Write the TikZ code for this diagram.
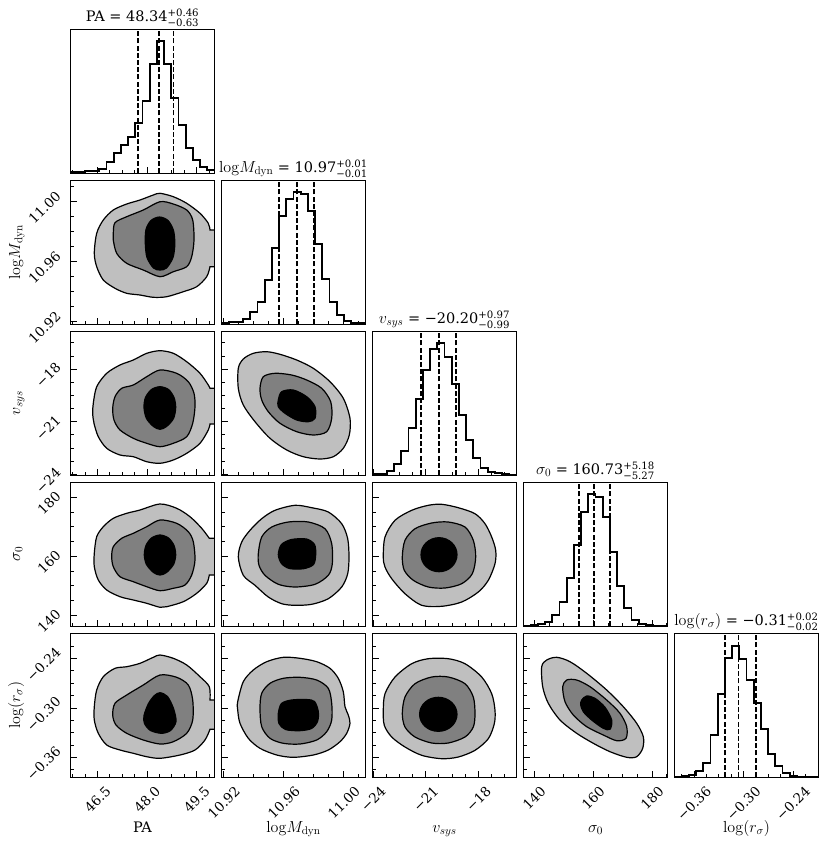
\documentclass[tikz,border=0pt]{standalone}
\usepackage{fix-cm}
\usepackage{amsmath}
\usepackage[no-math]{fontspec}
\setmainfont{DejaVu Serif}
\definecolor{cLight}{gray}{0.75}
\definecolor{cMid}{gray}{0.5}
\newcommand\mfont{\fontsize{16}{19}\selectfont}
\tikzset{
  framel/.style={draw=black, line width=1pt},
  tickl/.style={draw=black, line width=0.9pt},
  histl/.style={draw=black, line width=1.8pt, line join=miter},
  dashl/.style={draw=black, line width=1.6pt, dash pattern=on 5pt off 2.2pt},
  c1/.style={fill=cLight, draw=black, line width=1.2pt},
  c2/.style={fill=cMid, draw=black, line width=1.2pt},
  c3/.style={fill=black, draw=black, line width=1.2pt},
  ticklab/.style={inner sep=0pt, font=\fontsize{13.5}{15}\selectfont},
  axlab/.style={inner sep=0pt, font=\fontsize{14.5}{17}\selectfont},
  titl/.style={inner sep=0pt, font=\fontsize{14.5}{17}\selectfont},
}
\def\minA{2.2,14.6,39.4,51.8,64.2,89,101.4,113.8,138.6}
\def\majA{27,76.6,126.2}
\def\labA{27/46.5,76.6/48.0,126.2/49.5}
\def\minB{17.4,32.4,47.4,77.4,92.4,107.4,137.4}
\def\majB{2.4,62.4,122.4}
\def\labB{2.4/10.92,62.4/10.96,122.4/11.00}
\def\minC{13.76,26.92,40.08,66.4,79.56,92.72,119.04,132.2}
\def\majC{0.6,53.24,105.88}
\def\labC{0.6/−24,53.24/−21,105.88/−18}
\def\minD{25.45,40.2,54.95,84.45,99.2,113.95,143.2}
\def\majD{10.7,69.7,128.7}
\def\labD{10.7/140,69.7/160,128.7/180}
\def\minE{7.1,31.9,44.3,56.6,81.4,93.8,106.1,130.9}
\def\majE{19.5,69,118.5}
\def\labE{19.5/−0.36,69/−0.30,118.5/−0.24}
\newcommand\xtk[3]{%
  \expandafter\let\expandafter\tmin\csname min#3\endcsname
  \expandafter\let\expandafter\tmaj\csname maj#3\endcsname
  \foreach \pa in \tmin {\draw[tickl] (#1+\pa,#2) -- ++(0,-3.5);}
  \foreach \pa in \tmaj {\draw[tickl] (#1+\pa,#2) -- ++(0,-6);}
}
\newcommand\ytk[3]{%
  \expandafter\let\expandafter\tmin\csname min#3\endcsname
  \expandafter\let\expandafter\tmaj\csname maj#3\endcsname
  \foreach \pa in \tmin {\draw[tickl] (#1,#2-\pa) -- ++(3.5,0);}
  \foreach \pa in \tmaj {\draw[tickl] (#1,#2-\pa) -- ++(6,0);}
}
\newcommand\xlb[3]{%
  \expandafter\let\expandafter\tlab\csname lab#3\endcsname
  \foreach \pa/\sa [count=\na] in \tlab {\node[ticklab, anchor=north] (xl#3\na) at (#1+\pa,#2+8) {\rotatebox{45}{\sa}};}
}
\newcommand\ylb[3]{%
  \expandafter\let\expandafter\tlab\csname lab#3\endcsname
  \foreach \pa/\sa [count=\na] in \tlab {\node[ticklab, anchor=east] (yl#3\na) at (#1-8.5,#2-\pa+6) {\rotatebox{45}{\sa}};}
}
\newcommand\frm[2]{\draw[framel] (#1,#2) rectangle ++(144,143.5);}
\newcommand\hst[3]{%
  \draw[histl] (#1,#2+143.5) \foreach \ha [count=\ka from 0] in {#3} { -- (#1+7.2*\ka,#2+143.5-\ha) -- (#1+7.2*\ka+7.2,#2+143.5-\ha) };
}
\newcommand\qln[3]{\foreach \da in {#3} {\draw[dashl] (#1+\da,#2+143.5) -- (#1+\da,#2);}}
\begin{document}
\begin{tikzpicture}[x=1pt,y=-1pt]
\fill[white] (0,0) rectangle (829,847);
\useasboundingbox (0,0) rectangle (829,847);

% ---------- Row 1 ----------
\hst{70.5}{29.5}{0.7,1,1.7,2.3,4.3,11,20,28.3,36,50.3,71.7,109.3,131.7,109.3,75.3,47.7,25,12.7,6,2.7}
\qln{70.5}{29.5}{67.3,88.3,103}
\frm{70.5}{29.5}
\xtk{70.5}{173}{A}

% ---------- Row 2 ----------
\begin{scope}[shift={(70.5,180.5)}]
\clip (0,0) rectangle (144,143.5);
\filldraw[c1] plot[smooth] coordinates {(139.5,86.2) (136.2,96.2) (126.2,106.2) (112.8,111.2) (96.2,116.2) (82.8,116.8) (69.5,114.5) (56.2,112.8) (44.5,107.8) (32.8,99.5) (26.2,86.2) (23.8,72.8) (26.2,52.8) (32.8,39.5) (42.8,29.5) (56.2,23.5) (69.5,19.5) (82.8,14.5) (89.5,12.8) (102.8,16.2) (116.2,22.8) (129.5,32.8) (137.8,42.8) (139.5,49.5)} -- (150,49.5) -- (150,86.2) -- cycle;
\filldraw[c2] plot[smooth cycle] coordinates {(42.8,52.8) (44.5,42.2) (56.2,36.2) (72.8,29.5) (89.5,21.2) (102.8,23.5) (116.2,29.5) (122.2,39.5) (123.5,59.5) (121.2,76.2) (116.2,86.2) (102.8,91.2) (89.5,96.2) (72.8,89.5) (56.2,82.8) (46.2,72.8) (42.8,59.5)};
\filldraw[c3] plot[smooth cycle] coordinates {(89,36.5) (97.5,40) (103,50) (104.3,63.5) (102.5,77) (96,87.5) (89.5,89.5) (83,87.5) (76.5,77) (74.8,62.8) (75.5,49) (80.5,40)};
\end{scope}
\frm{70.5}{180.5}
\xtk{70.5}{324}{A}\ytk{70.5}{324}{B}

\hst{221.5}{180.5}{0.7,1.7,2.3,5,11.7,22,43.7,76.3,108.3,125,131.7,130.3,113.3,80,45.3,22,9.3,3.3,1,0.7}
\qln{221.5}{180.5}{57.7,75.7,92.7}
\frm{221.5}{180.5}
\xtk{221.5}{324}{B}

% ---------- Row 3 ----------
\begin{scope}[shift={(70.5,331.5)}]
\clip (0,0) rectangle (144,143.5);
\filldraw[c1] plot[smooth] coordinates {(139.5,92.5) (137.8,98.5) (129.5,111.8) (116.2,121.8) (102.8,128.5) (89.5,131.8) (76.2,130.2) (62.8,125.2) (49.5,123.5) (36.2,116.8) (27.8,105.2) (23.5,91.8) (22.2,81.8) (22.8,71.8) (26.2,55.2) (36.2,41.8) (49.5,33.5) (62.8,28.5) (76.2,21.8) (89.5,19.2) (102.8,21.8) (116.2,30.2) (129.5,41.8) (137.8,53.5) (139.5,56.8)} -- (150,56.8) -- (150,92.5) -- cycle;
\filldraw[c2] plot[smooth cycle] coordinates {(42.2,76.8) (44.5,65.2) (51.2,56.8) (62.8,53.5) (76.2,45.2) (89.5,38.5) (106.2,41.8) (117.8,50.2) (123.5,61.8) (124.5,75.2) (122.2,91.8) (116.2,105.2) (102.8,111.8) (89.5,115.2) (76.2,111.8) (62.8,106.8) (49.5,98.5) (43.5,88.5)};
\filldraw[c3] plot[smooth cycle] coordinates {(89.5,55.2) (98,58) (103.5,66) (105.2,76) (103,87) (96,95) (89.5,97.8) (83,95) (76,87) (73.5,76) (75,66) (81,58)};
\end{scope}
\frm{70.5}{331.5}
\xtk{70.5}{475}{A}\ytk{70.5}{475}{C}

\begin{scope}[shift={(221.5,331.5)}]
\clip (0,0) rectangle (144,143.5);
\filldraw[c1] plot[smooth cycle] coordinates {(16.8,36.8) (21.8,27.5) (31.8,21.8) (45.2,20.2) (58.5,22.8) (75.2,28.5) (91.8,36.8) (108.5,50.2) (121.8,66.8) (128.5,86.8) (127.8,103.5) (121.8,116.8) (111.8,125.2) (98.5,127.5) (81.8,125.2) (65.2,118.5) (48.5,106.8) (33.5,90.2) (21.8,73.5) (16.8,56.8)};
\filldraw[c2] plot[smooth cycle] coordinates {(38.5,56.8) (41.8,45.2) (53.5,41.8) (70.2,43.5) (85.2,48.5) (100.2,56.8) (109.2,70.2) (110.2,86.8) (105.2,100.2) (91.8,103.5) (75.2,100.2) (58.5,91.8) (46.8,80.2) (40.2,68.5)};
\filldraw[c3] plot[smooth cycle] coordinates {(56.8,68.5) (60.2,60.2) (71.8,58.5) (85.2,65.2) (93.5,75.2) (93.5,86.8) (86.8,90.2) (75.2,88.5) (63.5,81.8) (56.8,75.2)};
\end{scope}
\frm{221.5}{331.5}
\xtk{221.5}{475}{B}\ytk{221.5}{475}{C}

\hst{372.5}{331.5}{1,1,3.7,11,23.7,46.7,76,105,126,131.7,118.3,91,60,35,16.7,7,3.3,1.7,0.7,0.3}
\qln{372.5}{331.5}{48.7,66.3,83.3}
\frm{372.5}{331.5}
\xtk{372.5}{475}{C}

% ---------- Row 4 ----------
\begin{scope}[shift={(70.5,482.5)}]
\clip (0,0) rectangle (144,143.5);
\filldraw[c1] plot[smooth] coordinates {(138.8,92.5) (136.2,100.8) (126.2,110.8) (112.8,119.2) (96.2,124.2) (89.5,124.8) (76.2,120.8) (62.8,117.5) (49.5,114.2) (36.2,107.5) (27.8,97.5) (23.8,84.2) (23.8,70.8) (26.2,54.2) (32.8,44.2) (42.8,35.8) (56.2,30.8) (69.5,27.5) (89.5,21.5) (106.2,25.8) (119.5,34.2) (131.2,45.8) (138.8,55.8)} -- (150,55.8) -- (150,92.5) -- cycle;
\filldraw[c2] plot[smooth cycle] coordinates {(41.2,74.2) (42.8,64.2) (51.2,55.8) (62.8,50.8) (76.2,44.2) (89.5,37.5) (106.2,40.8) (117.8,49.2) (122.8,59.2) (124.5,77.5) (121.2,92.5) (114.5,102.5) (102.8,105.8) (89.5,108.2) (76.2,104.2) (62.8,99.2) (49.5,94.2) (42.8,84.2)};
\filldraw[c3] plot[smooth cycle] coordinates {(89.5,52.5) (98,55.5) (103.5,63) (105.2,72.5) (103,82) (96,90) (89.5,92.5) (83,90) (76,82) (73.8,72.5) (75.5,63) (81,55.5)};
\end{scope}
\frm{70.5}{482.5}
\xtk{70.5}{626}{A}\ytk{70.5}{626}{D}

\begin{scope}[shift={(221.5,482.5)}]
\clip (0,0) rectangle (144,143.5);
\filldraw[c1] plot[smooth cycle] coordinates {(16.8,74.5) (20.2,59.5) (28.5,47.8) (40.2,36.2) (53.5,27.8) (73.5,22.8) (90.2,25.2) (106.8,29.5) (120.2,41.2) (126.2,56.2) (127.5,74.5) (126.2,91.2) (120.2,104.5) (106.8,116.2) (90.2,121.8) (73.5,122.8) (60.2,121.2) (46.8,114.5) (33.5,102.8) (21.8,92.8)};
\filldraw[c2] plot[smooth cycle] coordinates {(36.8,71.2) (40.2,54.5) (50.2,44.5) (66.8,39.5) (86.8,39.5) (103.5,46.2) (110.2,61.2) (110.8,81.2) (106.8,92.8) (93.5,101.8) (73.5,104.5) (56.8,101.8) (43.5,92.8) (37.5,82.8)};
\filldraw[c3] plot[smooth cycle] coordinates {(60,62) (70,57) (85,56.5) (93,62) (94.2,72) (92,82) (82,86.2) (68,86) (60,81) (56.8,72)};
\end{scope}
\frm{221.5}{482.5}
\xtk{221.5}{626}{B}\ytk{221.5}{626}{D}

\begin{scope}[shift={(372.5,482.5)}]
\clip (0,0) rectangle (144,143.5);
\filldraw[c1] plot[smooth cycle] coordinates {(10.8,74.5) (12.5,54.5) (22.5,37.8) (39.2,27.8) (55.8,22.8) (69.2,21.8) (85.8,25.2) (102.5,31.2) (112.5,41.2) (119.2,54.5) (123.2,67.8) (122.5,81.2) (115.8,97.8) (105.8,109.5) (89.2,119.5) (69.2,123.8) (49.2,122.8) (32.5,111.2) (19.2,96.2) (12.5,84.5)};
\filldraw[c2] plot[smooth cycle] coordinates {(29.8,74.5) (32.5,57.8) (42.5,46.2) (59.2,40.5) (75.8,39.5) (92.5,44.5) (100.8,57.8) (103.2,74.5) (99.8,91.2) (89.2,101.2) (72.5,105.5) (55.8,104.5) (40.8,97.8) (31.8,87.8)};
\filldraw[c3] (66.5,72.2) ellipse [x radius=18, y radius=17];
\end{scope}
\frm{372.5}{482.5}
\xtk{372.5}{626}{C}\ytk{372.5}{626}{D}

\hst{523.5}{482.5}{0.3,0.7,2,4.3,11,24.3,47.7,81,114.3,131.7,129,109.3,74.3,40.3,17.7,6,2,0.7,0.3,0.3}
\qln{523.5}{482.5}{55.7,70.7,86.3}
\frm{523.5}{482.5}
\xtk{523.5}{626}{D}

% ---------- Row 5 ----------
\begin{scope}[shift={(70.5,633.5)}]
\clip (0,0) rectangle (144,143.5);
\filldraw[c1] plot[smooth] coordinates {(139.5,95.8) (134.5,106.5) (124.5,116.5) (109.5,121.5) (89.5,124.8) (76.2,123.2) (62.8,119.8) (49.5,116.5) (36.2,111.5) (27.8,99.8) (23.8,86.5) (23.8,73.2) (26.2,56.5) (32.8,43.2) (44.5,34.8) (56.2,33.2) (69.5,29.8) (82.8,23.8) (89.5,21.5) (102.8,24.8) (116.2,31.5) (129.5,43.2) (138.8,53.2) (139.5,66.5)} -- (150,66.5) -- (150,95.8) -- cycle;
\filldraw[c2] plot[smooth cycle] coordinates {(42.2,81.5) (44.5,69.8) (56.2,61.5) (72.8,51.5) (89.5,41.5) (106.2,43.8) (117.8,51.5) (122.2,66.5) (122.2,86.5) (116.2,99.8) (102.8,108.2) (89.5,110.5) (72.8,106.5) (56.2,99.8) (45.5,91.5)};
\filldraw[c3] plot[smooth cycle] coordinates {(89.5,59.2) (97,63) (103,75) (105.5,88) (100,97) (91,99.8) (80,97) (74,90) (73.5,82) (78,70) (84,62)};
\end{scope}
\frm{70.5}{633.5}
\xtk{70.5}{777}{A}\ytk{70.5}{777}{E}

\begin{scope}[shift={(221.5,633.5)}]
\clip (0,0) rectangle (144,143.5);
\filldraw[c1] plot[smooth cycle] coordinates {(16.2,68.2) (21.8,48.2) (31.8,36.5) (45.2,28.2) (61.8,23.8) (78.5,24.8) (95.2,28.2) (108.5,34.8) (116.8,44.8) (121.8,58.2) (123.5,73.2) (126.8,81.5) (128.5,89.8) (125.2,99.8) (118.5,108.2) (106.8,116.5) (91.8,121.5) (71.8,123.8) (55.2,121.5) (38.5,114.8) (26.8,104.8) (18.5,89.8) (16.2,76.5)};
\filldraw[c2] plot[smooth cycle] coordinates {(38.5,74.8) (40.2,59.8) (48.5,49.8) (61.8,44.8) (78.5,43.8) (95.2,46.5) (106.8,54.8) (110.2,69.8) (110.2,86.5) (105.2,98.2) (95.2,106.5) (78.5,110.5) (61.8,109.8) (48.5,104.8) (40.2,93.2)};
\filldraw[c3] plot[smooth cycle] coordinates {(60,70) (70,66.5) (85,66) (93,68) (96.8,78) (96,88) (90,95) (78,97.2) (64,96) (57.5,90) (56.8,80)};
\end{scope}
\frm{221.5}{633.5}
\xtk{221.5}{777}{B}\ytk{221.5}{777}{E}

\begin{scope}[shift={(372.5,633.5)}]
\clip (0,0) rectangle (144,143.5);
\filldraw[c1] plot[smooth cycle] coordinates {(10.8,76.8) (12.5,60.2) (22.5,43.5) (39.2,30.2) (55.8,25.2) (75.8,25.2) (92.5,30.2) (109.2,43.5) (119.2,60.2) (122.5,76.8) (121.8,90.2) (115.8,105.2) (102.5,116.8) (85.8,123.5) (69.2,125.2) (49.2,121.8) (32.5,113.5) (19.2,103.5) (11.8,91.8)};
\filldraw[c2] plot[smooth cycle] coordinates {(29.8,80.2) (32.5,63.5) (42.5,50.2) (59.2,43.5) (75.8,43.5) (92.5,50.2) (100.8,63.5) (102.5,80.2) (100.8,93.5) (92.5,103.5) (75.8,109.5) (59.2,109.5) (42.5,103.5) (32.5,93.5)};
\filldraw[c3] (65.8,80.8) ellipse [x radius=18.7, y radius=17];
\end{scope}
\frm{372.5}{633.5}
\xtk{372.5}{777}{C}\ytk{372.5}{777}{E}

\begin{scope}[shift={(523.5,633.5)}]
\clip (0,0) rectangle (144,143.5);
\filldraw[c1] plot[smooth cycle] coordinates {(18.2,33.2) (23.2,26.5) (33.2,23.8) (46.5,28.2) (63.2,39.8) (83.2,56.5) (99.8,73.2) (113.2,89.8) (119.8,103.2) (119.2,114.8) (113.2,123.2) (103.2,123.8) (86.5,118.2) (69.8,109.8) (53.2,99.8) (36.5,86.5) (24.8,69.8) (19.2,53.2)};
\filldraw[c2] plot[smooth cycle] coordinates {(39.2,53.2) (43.2,46.5) (53.2,46.5) (66.5,53.2) (83.2,66.5) (96.5,79.8) (103.2,93.2) (102.5,104.8) (93.2,107.2) (79.8,101.5) (63.2,93.2) (49.8,81.5) (41.5,68.2)};
\filldraw[c3] plot[smooth cycle] coordinates {(58.2,66.5) (63.2,62.5) (71.5,64.8) (81.5,73.8) (88.2,86.5) (86.5,95.8) (79.8,94.8) (68.2,86.5) (59.8,78.2) (57.2,71.5)};
\end{scope}
\frm{523.5}{633.5}
\xtk{523.5}{777}{D}\ytk{523.5}{777}{E}

\hst{674.5}{633.5}{0.3,0.7,2,6,14.3,42,82.7,118.7,131,118.3,96.7,73.7,47.7,22.7,11,3.7,1,0.3,0,0}
\qln{674.5}{633.5}{50.7,64,81.7}
\frm{674.5}{633.5}
\xtk{674.5}{777}{E}

% ---------- tick labels ----------
\ylb{70.5}{324}{B}
\ylb{70.5}{475}{C}
\ylb{70.5}{626}{D}
\ylb{70.5}{777}{E}
\xlb{70.5}{777}{A}
\xlb{221.5}{777}{B}
\xlb{372.5}{777}{C}
\xlb{523.5}{777}{D}
\xlb{674.5}{777}{E}

% ---------- titles ----------
\node[titl, anchor=base] (t1) at (142.5,21.5) {PA = 48.34$^{\text{+0.46}}_{\text{−0.63}}$};
\node[titl, anchor=base] (t2) at (293.5,172.5) {{\mfont$\mathrm{log}M_{\mathrm{dyn}}$} = 10.97$^{\text{+0.01}}_{\text{−0.01}}$};
\node[titl, anchor=base] (t3) at (444.5,323.5) {{\mfont$v_{sys}$} = −20.20$^{\text{+0.97}}_{\text{−0.99}}$};
\node[titl, anchor=base] (t4) at (595.5,474.5) {{\mfont$\sigma_0$} = 160.73$^{\text{+5.18}}_{\text{−5.27}}$};
\node[titl, anchor=base] (t5) at (746.5,625.5) {{\mfont$\mathrm{log}(r_\sigma)$} = −0.31$^{\text{+0.02}}_{\text{−0.02}}$};

% ---------- axis labels ----------
\node[axlab, anchor=base] (xlab1) at (142.5,832) {PA};
\node[axlab, anchor=base] (xlab2) at (293.5,832) {\mfont$\mathrm{log}M_{\mathrm{dyn}}$};
\node[axlab, anchor=base] (xlab3) at (444.5,832) {\mfont$v_{sys}$};
\node[axlab, anchor=base] (xlab4) at (595.5,832) {\mfont$\sigma_0$};
\node[axlab, anchor=base] (xlab5) at (746.5,832) {\mfont$\mathrm{log}(r_\sigma)$};
\node[axlab, anchor=base, rotate=90] (ylab2) at (20,252.25) {\mfont$\mathrm{log}M_{\mathrm{dyn}}$};
\node[axlab, anchor=base, rotate=90] (ylab3) at (20,403.25) {\mfont$v_{sys}$};
\node[axlab, anchor=base, rotate=90] (ylab4) at (20,554.25) {\mfont$\sigma_0$};
\node[axlab, anchor=base, rotate=90] (ylab5) at (20,705.25) {\mfont$\mathrm{log}(r_\sigma)$};
\end{tikzpicture}
\end{document}
